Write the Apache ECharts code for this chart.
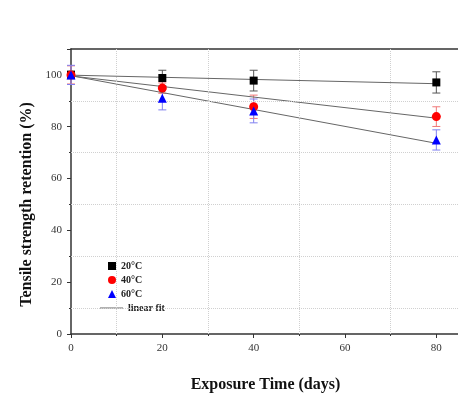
<!DOCTYPE html>
<html>
<head>
<meta charset="utf-8">
<script src="https://cdn.jsdelivr.net/npm/echarts@6/dist/echarts.min.js"></script>
<style>
  html, body { margin: 0; padding: 0; background: #fff; }
  #chart { width: 458px; height: 394px; }
</style>
</head>
<body>
<div id="chart"></div>
<script>
// measured points (days vs retention %)
const days = [0, 20, 40, 80]
const ret20 = [100, 98.8, 97.8, 97.1]
const err20 = [1.5, 3.0, 4.0, 4.1]
const ret40 = [100, 94.9, 87.7, 83.9]
const err40 = [3.5, 2.0, 4.5, 3.8]
const ret60 = [100, 91.0, 86.1, 74.9]
const err60 = [3.7, 4.5, 4.6, 3.9]

// linear fit end points
const fitDays = [0, 80]
const fit20 = [99.9, 96.6]
const fit40 = [99.6, 83.3]
const fit60 = [99.7, 73.6]

const xGrid = [10, 30, 50, 70]
const yGrid = [10, 30, 50, 70, 90]

const serif = 'Liberation Serif'

const pts = (ys) => days.map((d, i) => [d, ys[i]])
const bars = (ys, es) => days.map((d, i) => [d, ys[i] - es[i], ys[i] + es[i]])
const fit = (ys) => fitDays.map((d, i) => [d, ys[i]])

function errorBar(color) {
  return (params, api) => {
    const lo = api.coord([api.value(0), api.value(1)])
    const hi = api.coord([api.value(0), api.value(2)])
    const w = 4
    const style = { stroke: color, lineWidth: 1 }
    return {
      type: 'group',
      children: [
        { type: 'line', shape: { x1: lo[0], y1: lo[1], x2: hi[0], y2: hi[1] }, style },
        { type: 'line', shape: { x1: lo[0] - w, y1: lo[1], x2: lo[0] + w, y2: lo[1] }, style },
        { type: 'line', shape: { x1: hi[0] - w, y1: hi[1], x2: hi[0] + w, y2: hi[1] }, style },
      ],
    }
  }
}

const axisCommon = {
  axisLine: { show: true, onZero: false, lineStyle: { color: '#333', width: 1.5 } },
  splitLine: { show: false },
}

const legendText = { fontFamily: serif, fontWeight: 'bold', fontSize: 10, color: '#222' }

const chart = echarts.init(document.getElementById('chart'), null, { renderer: 'canvas' })

chart.setOption({
  animation: false,
  backgroundColor: '#fff',
  // plot runs past the right edge of the picture, like the original crop
  grid: { left: 71, width: 411, top: 49, bottom: 60, containLabel: false, outerBoundsMode: 'none' },
  legend: [
    {
      orient: 'vertical',
      left: 103,
      top: 256,
      itemWidth: 8,
      itemHeight: 8,
      itemGap: 4,
      data: ['20°C', '40°C', '60°C'],
      textStyle: { ...legendText },
    },
    {
      orient: 'vertical',
      left: 95,
      top: 298,
      itemWidth: 23,
      itemHeight: 1.5,
      icon: 'rect',
      data: ['linear fit'],
      textStyle: { ...legendText },
    },
  ],
  xAxis: [
    {
      ...axisCommon,
      type: 'value',
      min: 0,
      max: 90,
      interval: 20,
      name: 'Exposure Time (days)',
      nameLocation: 'middle',
      nameGap: 43,
      nameTextStyle: { fontFamily: serif, fontWeight: 'bold', fontSize: 16, color: '#111', padding: [0, 22, 0, 0] },
      axisTick: { show: true, length: 4, lineStyle: { color: '#333' } },
      minorTick: { show: true, splitNumber: 2, length: 2, lineStyle: { color: '#333' } },
      axisLabel: { fontFamily: serif, fontSize: 11, color: '#333', margin: 9, showMaxLabel: false },
    },
    {
      ...axisCommon,
      type: 'value',
      position: 'top',
      min: 0,
      max: 90,
      interval: 20,
      axisTick: { show: false },
      axisLabel: { show: false },
    },
  ],
  yAxis: {
    ...axisCommon,
    type: 'value',
    min: 0,
    max: 110,
    interval: 20,
    name: 'Tensile strength retention (%)',
    nameLocation: 'middle',
    nameGap: 33,
    nameTextStyle: { fontFamily: serif, fontWeight: 'bold', fontSize: 16, color: '#111', padding: [0, 26, 0, 0] },
    axisTick: { show: true, length: 4, lineStyle: { color: '#333' } },
    minorTick: { show: true, splitNumber: 2, length: 2, lineStyle: { color: '#333' } },
    axisLabel: { fontFamily: serif, fontSize: 11, color: '#333', margin: 9, showMaxLabel: false },
  },
  series: [
    {
      name: 'grid',
      type: 'line',
      data: [],
      silent: true,
      markLine: {
        silent: true,
        symbol: ['none', 'none'],
        label: { show: false },
        lineStyle: { type: 'dotted', color: '#d0d0d0', width: 1 },
        data: [...xGrid.map((v) => ({ xAxis: v })), ...yGrid.map((v) => ({ yAxis: v }))],
      },
    },
    { name: 'err20', type: 'custom', renderItem: errorBar('#555'), data: bars(ret20, err20), clip: false, z: 3 },
    { name: 'err40', type: 'custom', renderItem: errorBar('#f07878'), data: bars(ret40, err40), clip: false, z: 3 },
    { name: 'err60', type: 'custom', renderItem: errorBar('#8080f0'), data: bars(ret60, err60), clip: false, z: 3 },
    { name: 'linear fit', type: 'line', data: fit(fit20), symbol: 'none', lineStyle: { color: '#666', width: 1 }, itemStyle: { color: '#999' }, z: 4 },
    { name: 'linear fit', type: 'line', data: fit(fit40), symbol: 'none', lineStyle: { color: '#666', width: 1 }, itemStyle: { color: '#999' }, z: 4 },
    { name: 'linear fit', type: 'line', data: fit(fit60), symbol: 'none', lineStyle: { color: '#666', width: 1 }, itemStyle: { color: '#999' }, z: 4 },
    { name: '20°C', type: 'scatter', data: pts(ret20), symbol: 'rect', symbolSize: 8, itemStyle: { color: '#000', opacity: 1 }, clip: false, z: 5 },
    { name: '40°C', type: 'scatter', data: pts(ret40), symbol: 'circle', symbolSize: 9, itemStyle: { color: '#ff0000', opacity: 1 }, clip: false, z: 5 },
    { name: '60°C', type: 'scatter', data: pts(ret60), symbol: 'triangle', symbolSize: 9, itemStyle: { color: '#0000ff', opacity: 1 }, clip: false, z: 5 },
  ],
})
</script>
</body>
</html>
